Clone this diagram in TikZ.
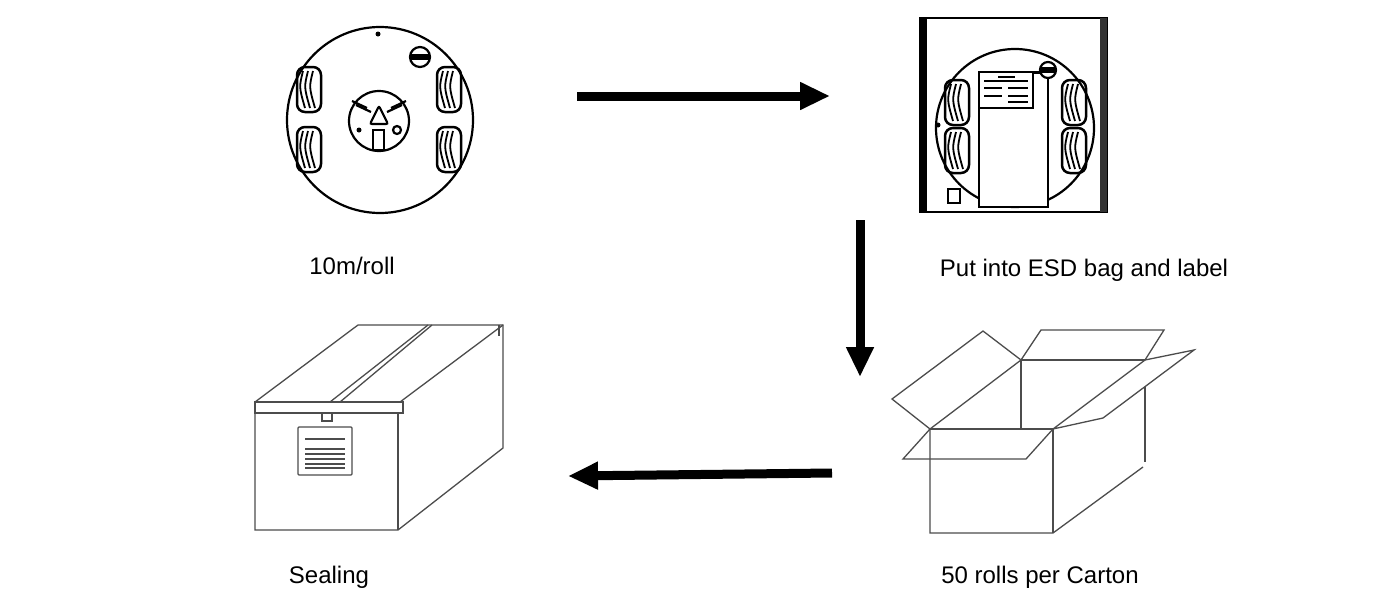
\documentclass[tikz,border=0pt]{standalone}
\usepackage{fontspec}
\setmainfont{Liberation Sans}
\usetikzlibrary{arrows.meta}
\begin{document}
\begin{tikzpicture}[x=1pt,y=-1pt,
  ln/.style={line width=2.2pt,black},
  thin/.style={line width=1.3pt,black!70},
  fat/.style={line width=9pt,-{Triangle[length=30pt,width=26pt]}},
  lbl/.style={font=\fontsize{24}{28}\selectfont}]
\useasboundingbox (0,0) rectangle (1379,592);
\tikzset{win/.pic={
  \draw[line width=2.5pt,rounded corners=8pt] (0,0) rectangle (24,45);
  \foreach \d in {6,11,16}{\draw[line width=1.8pt] (\d,4) .. controls (\d-4,20) .. (\d+2,41);}
}}
% reel
\node[circle,draw,ln,minimum size=186pt,inner sep=0] (reel) at (380,120) {};
\fill (378,34) circle (2.5);
\draw[ln] (420,57) circle (10); \fill (411,54) rectangle (429,60);
\draw[ln] (379,121) circle (30);
\draw[ln] (367,108) -- (352,101); \draw[ln] (391,108) -- (406,101);
\draw[ln] (371,112) -- (356,105); \draw[ln] (387,112) -- (402,105);
\draw[ln] (373,130) rectangle (384,150);
\draw[ln,rounded corners=2pt] (379,106) -- (370,124) -- (388,124) -- cycle;
\fill (359,130) circle (2.5); \draw[ln] (397,130) circle (4);
\pic at (297,67) {win}; \pic at (297,127) {win};
\pic at (437,67) {win}; \pic at (437,127) {win};
\node[lbl] (t1) at (352,266) {10m/roll};
% bag
\draw[ln] (920,18) rectangle (1107,212);
\fill (920,18) rectangle (927,212);
\fill[black!80] (1100,18) rectangle (1107,212);
\node[circle,draw,ln,minimum size=158pt,inner sep=0] (bag) at (1015,128) {};
\fill[white] (979,72) rectangle (1048,207);
\draw[ln] (979,72) rectangle (1048,207);
\draw[ln] (979,72) rectangle (1033,108);
\foreach \y in {88,96}{\draw[line width=2pt] (984,\y) -- (1002,\y); \draw[line width=2pt] (1008,\y) -- (1028,\y);}
\draw[line width=2pt] (984,81) -- (1028,81);
\draw[line width=2pt] (998,77) -- (1015,77);
\draw[line width=2pt] (1008,102) -- (1028,102);
\draw[ln] (1033,73) -- (1042,73);
\draw[ln,fill=white] (1048,70) circle (8); \fill (1041,67) rectangle (1055,73);
\pic at (945,80) {win}; \pic at (945,128) {win};
\pic at (1062,80) {win}; \pic at (1062,128) {win};
\draw[ln] (948,189) rectangle (960,203);
\fill (938,125) circle (2.5);
\node[lbl] (t2) at (1084,270) {Put into ESD bag and label};
% sealed box
\draw[thin] (255,407) -- (255,530) -- (398,530) -- (503,448) -- (503,325) -- (358,325) -- (255,402);
\draw[thin] (255,402) -- (400,402) -- (503,325);
\draw[thin] (255,402) rectangle (403,413);
\draw[thin] (398,413) -- (398,530);
\draw[thin] (330,402) -- (428,325); \draw[thin] (340,402) -- (432,325);
\draw[thin] (499,325) -- (499,336);
\draw[thin] (322,413) rectangle (332,421);
\draw[thin,rounded corners=1pt] (298,427) rectangle (352,475);
\foreach \y in {439,449,454,459,464,468}{\draw[thin] (305,\y) -- (345,\y);}
\node[lbl] (t3) at (329,577) {Sealing};
% open box
\draw[thin] (1021,360) -- (1145,360);
\draw[thin] (1021,360) -- (1021,429);
\draw[thin] (930,429) -- (930,533) -- (1053,533) -- (1143,467);
\draw[thin] (1145,387) -- (1145,462);
\draw[thin] (930,429) -- (1053,429) -- (1053,533);
\draw[thin] (930,429) -- (892,399) -- (983,331) -- (1021,360) -- (930,429);
\draw[thin] (1021,360) -- (1041,330) -- (1164,330) -- (1145,360);
\draw[thin] (1053,429) -- (1145,360) -- (1194,350) -- (1103,418) -- (1053,429);
\draw[thin] (930,429) -- (903,459) -- (1026,459) -- (1053,429);
\node[lbl] (t4) at (1040,577) {50 rolls per Carton};
% arrows
\coordinate (a1) at (577,96); \coordinate (a2) at (830,96);
\coordinate (b1) at (860,220); \coordinate (b2) at (860,377);
\coordinate (c1) at (832,473); \coordinate (c2) at (568,476);
\draw[fat] (a1) -- (a2);
\draw[fat] (b1) -- (b2);
\draw[fat] (c1) -- (c2);
\end{tikzpicture}
\end{document}
